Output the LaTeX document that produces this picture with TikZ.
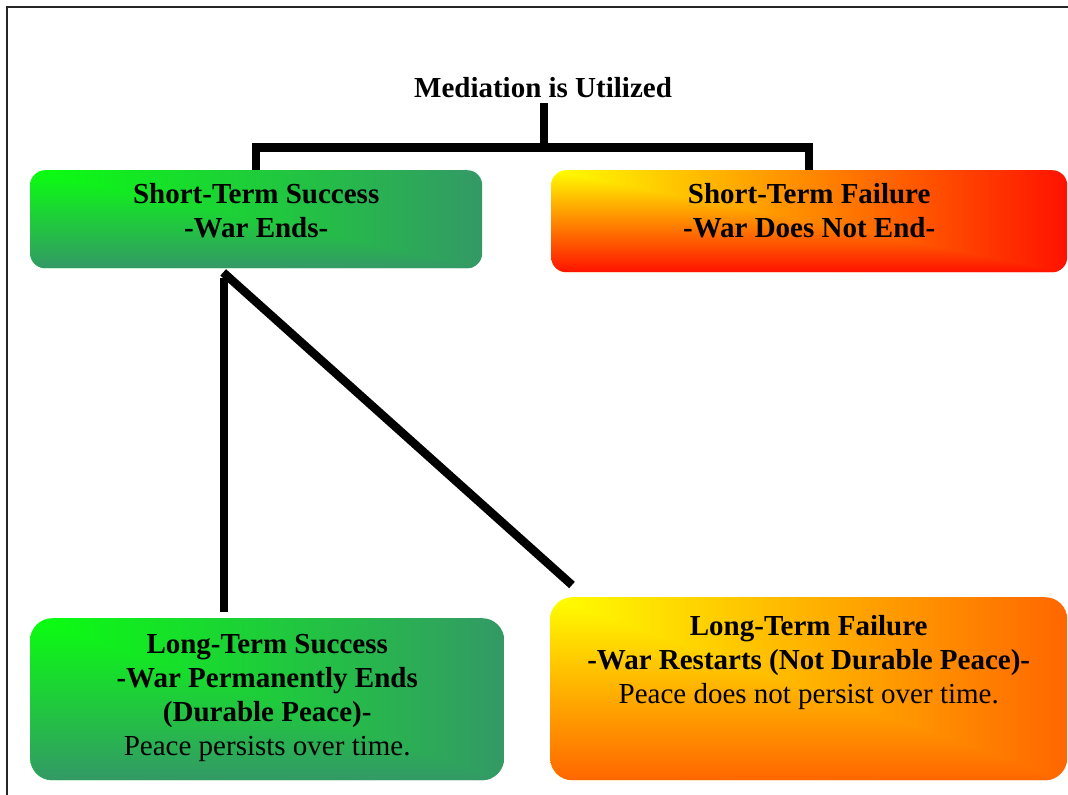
\documentclass[tikz,border=0pt]{standalone}
\usepackage{fontspec}
\setmainfont{Liberation Serif}
\usetikzlibrary{calc}
\definecolor{gA}{RGB}{10,255,15}
\definecolor{gB}{RGB}{51,153,102}
\definecolor{yA}{RGB}{255,255,0}
\definecolor{rB}{RGB}{255,18,0}
\definecolor{oB}{RGB}{255,102,0}
\tikzset{
  cornershade/.style 2 args={path picture={
    \shade[left color=#1, right color=#2]
      (path picture bounding box.north west) rectangle (path picture bounding box.south east);
    \shade[top color=#1, bottom color=#2]
      (path picture bounding box.north west) -- (path picture bounding box.south west)
      -- (path picture bounding box.south east) -- cycle;
  }},
  box/.style={rectangle, rounded corners=#1, inner sep=0pt, anchor=north west},
  txt/.style={font=\fontsize{29bp}{34bp}\selectfont\bfseries, align=center, inner sep=0pt, anchor=north},
  conn/.style={line width=8.5bp, black, line join=miter},
  frame/.style={line width=2bp, black!85}
}
\begin{document}
\begin{tikzpicture}[x=1bp, y=-1bp]
\useasboundingbox (0,0) rectangle (1068,795);
\fill[white] (0,0) rectangle (1068,795);
% frame
\begin{scope}
\clip (0,0) rectangle (1068,795);
\draw[frame, line cap=butt] (1068,6.7) -- (6.7,6.7) -- (6.7,795);
\end{scope}

% title
\node[font=\fontsize{29bp}{34bp}\selectfont\bfseries, inner sep=0pt, anchor=base] (T) at (543,98) {Mediation is Utilized};

% boxes
\node[box=15bp, cornershade={gA}{gB}, minimum width=452bp, minimum height=98bp] (A) at (30,170) {};
\node[box=15bp, cornershade={yA}{rB}, minimum width=516bp, minimum height=102bp] (B) at (551,170) {};
\node[box=22bp, cornershade={gA}{gB}, minimum width=474bp, minimum height=162bp] (C) at (30,618) {};
\node[box=22bp, cornershade={yA}{oB}, minimum width=517bp, minimum height=183bp] (D) at (550,597) {};

% texts
\node[txt] (At) at ($(A.north)+(0,13.4)$) {Short-Term Success\\-War Ends-};
\node[txt] (Bt) at ($(B.north)+(0,13.4)$) {Short-Term Failure\\-War Does Not End-};
\node[txt] (Ct) at ($(C.north)+(0,16.4)$) {Long-Term Success\\-War Permanently Ends\\(Durable Peace)-\\\textmd{Peace persists over time.}};
\node[txt] (Dt) at ($(D.north)+(0,18.4)$) {Long-Term Failure\\-War Restarts (Not Durable Peace)-\\\textmd{Peace does not persist over time.}};

% connectors
\coordinate (j) at (544,147.5);
\coordinate (vx) at (224,0);
\draw[conn, shorten <=5bp] (T.south -| j) -- (j);
\draw[conn] (A.north) |- (j) -| (B.north);
\draw[conn, shorten <=10bp, shorten >=6bp] (vx |- A.south) -- (vx |- C.north);
\coordinate (d1) at ($(A.south)+(-33,4)$);
\coordinate (d2) at ($(D.north west)+(22,-12)$);
\draw[conn] (d1) -- (d2);
\end{tikzpicture}
\end{document}
